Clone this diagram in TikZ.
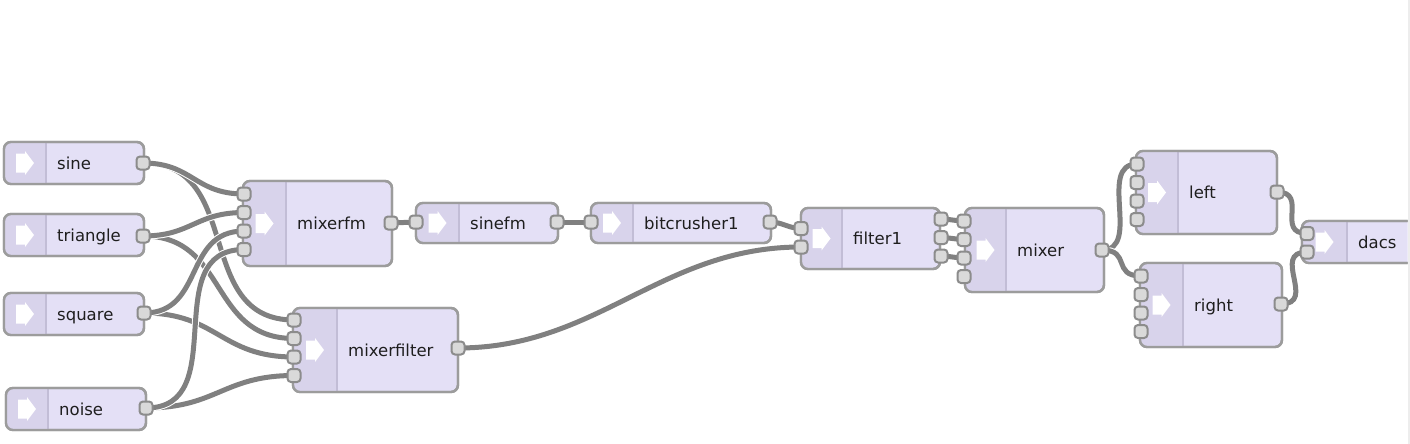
\documentclass[tikz,border=0pt]{standalone}
\usepackage{fontspec}
\setmainfont{DejaVu Sans}
\usetikzlibrary{calc}
\definecolor{boxfill}{HTML}{E4E0F6}
\definecolor{bandc}{HTML}{D8D3EB}
\definecolor{divc}{HTML}{C2BDD6}
\definecolor{boxline}{HTML}{9C9C9C}
\definecolor{portf}{HTML}{D9D9D9}
\definecolor{portline}{HTML}{8C8C8C}
\definecolor{wirec}{HTML}{808080}
\definecolor{txtc}{HTML}{1E1E1E}
\pgfdeclarelayer{wirelayer}
\pgfdeclarelayer{portlayer}
\pgfsetlayers{main,wirelayer,portlayer}
\tikzset{
  box/.style={draw=boxline, fill=boxfill, line width=2.4pt, rounded corners=7pt, inner sep=0pt, outer sep=0pt},
  lbl/.style={text=txtc, font=\fontsize{16.5}{19}\selectfont, inner sep=0pt},
  port/.style={draw=portline, fill=portf, line width=2pt, rounded corners=3.5pt, minimum size=13pt, inner sep=0pt},
  wire/.style={draw=wirec, line width=5pt, preaction={draw=white, line width=7pt}},
}
% #1 name, #2 left, #3 top, #4 right, #5 bottom, #6 band width, #7 label
\newcommand\mkblock[7]{%
  \node[box, anchor=north west, minimum width={(#4-#2)*1pt}, minimum height={(#5-#3)*1pt}] (#1) at (#2,#3) {};
  \begin{scope}
    \clip[rounded corners=7pt] (#2,#3) rectangle (#4,#5);
    \fill[bandc] (#2,#3) rectangle ({#2+#6},#5);
  \end{scope}
  \draw[divc, line width=1.6pt] ({#2+#6},{#3+1}) -- ({#2+#6},{#5-1});
  \begin{scope}[shift={({#2+#6/2},{(#3+#5)/2})}]
    \fill[white] (-9,-9.5) -- (0,-9.5) -- (0,-12) -- (9,0) -- (0,12) -- (0,9.5) -- (-9,9.5) -- cycle;
  \end{scope}
  \draw[boxline, line width=2.4pt, rounded corners=7pt] (#2,#3) rectangle (#4,#5);
  \node[lbl, anchor=base west] (#1-lbl) at ({#2+#6+11},{(#3+#5)/2+6}) {#7};
}
\begin{document}
\begin{tikzpicture}[x=1pt, y=-1pt]
\useasboundingbox (0,0) rectangle (1410,444);
\fill[white] (0,0) rectangle (1410,444);
\fill[black!7] (1407.5,0) rectangle (1410,444);
\begin{scope}
\clip (0,0) rectangle (1407.5,444);
\mkblock{sine}{4}{142}{144}{184}{42}{sine}
\mkblock{triangle}{4}{214}{144}{256}{42}{triangle}
\mkblock{square}{4}{293}{144}{335}{42}{square}
\mkblock{noise}{6}{388}{146}{430}{42}{noise}
\mkblock{mixerfm}{243}{181}{392}{266}{43}{mixerfm}
\mkblock{sinefm}{416}{203}{558}{243}{43}{sinefm}
\mkblock{bitcrusher1}{591}{203}{771}{243}{42}{bitcrusher1}
\mkblock{mixerfilter}{293}{308}{458}{392}{44}{mixerfilter}
\mkblock{filter1}{801}{208}{940}{269}{41}{filter1}
\mkblock{mixer}{965}{208}{1104}{292}{41}{mixer}
\mkblock{left}{1136}{151}{1277}{234}{42}{left}
\mkblock{right}{1140}{263}{1282}{347}{43}{right}
\mkblock{dacs}{1302}{221}{1450}{263}{45}{dacs}
\end{scope}

\begin{pgfonlayer}{portlayer}
\node[port] (sine-out) at (143,163) {};
\node[port] (triangle-out) at (143,236) {};
\node[port] (square-out) at (144,313) {};
\node[port] (noise-out) at (146,408) {};
\node[port] (mixerfm-in1) at (244,194) {};
\node[port] (mixerfm-in2) at (244,212.5) {};
\node[port] (mixerfm-in3) at (244,231) {};
\node[port] (mixerfm-in4) at (244,249.5) {};
\node[port] (mixerfm-out) at (391,223) {};
\node[port] (sinefm-in) at (416,222) {};
\node[port] (sinefm-out) at (557,222) {};
\node[port] (bitcrusher1-in) at (591,222) {};
\node[port] (bitcrusher1-out) at (770,222) {};
\node[port] (mixerfilter-in1) at (294,320) {};
\node[port] (mixerfilter-in2) at (294,338.5) {};
\node[port] (mixerfilter-in3) at (294,357) {};
\node[port] (mixerfilter-in4) at (294,375.5) {};
\node[port] (mixerfilter-out) at (458,348) {};
\node[port] (filter1-in1) at (801,228.5) {};
\node[port] (filter1-in2) at (801,247) {};
\node[port] (filter1-out1) at (941,219) {};
\node[port] (filter1-out2) at (941,237.5) {};
\node[port] (filter1-out3) at (941,256) {};
\node[port] (mixer-in1) at (964,221) {};
\node[port] (mixer-in2) at (964,239.5) {};
\node[port] (mixer-in3) at (964,258) {};
\node[port] (mixer-in4) at (964,276.5) {};
\node[port] (mixer-out) at (1102,250) {};
\node[port] (left-in1) at (1137,164) {};
\node[port] (left-in2) at (1137,182.5) {};
\node[port] (left-in3) at (1137,201) {};
\node[port] (left-in4) at (1137,219.5) {};
\node[port] (left-out) at (1277,192) {};
\node[port] (right-in1) at (1141,276) {};
\node[port] (right-in2) at (1141,294.5) {};
\node[port] (right-in3) at (1141,313) {};
\node[port] (right-in4) at (1141,331.5) {};
\node[port] (right-out) at (1281,304) {};
\node[port] (dacs-in1) at (1307,233.5) {};
\node[port] (dacs-in2) at (1307,252) {};
\end{pgfonlayer}

\begin{pgfonlayer}{wirelayer}
\draw[wire] (sine-out.center) to[out=0,in=180,looseness=1.2] (mixerfilter-in1.center);
\draw[wire] (triangle-out.center) to[out=0,in=180,looseness=1.2] (mixerfilter-in2.center);
\draw[wire] (sine-out.center) to[out=0,in=180,looseness=1.2] (mixerfm-in1.center);
\draw[wire] (triangle-out.center) to[out=0,in=180,looseness=1.2] (mixerfm-in2.center);
\draw[wire] (square-out.center) to[out=0,in=180,looseness=1.2] (mixerfilter-in3.center);
\draw[wire] (noise-out.center) to[out=0,in=180,looseness=1.2] (mixerfilter-in4.center);
\draw[wire] (square-out.center) to[out=0,in=180,looseness=1.2] (mixerfm-in3.center);
\draw[wire] (noise-out.center) to[out=0,in=180,looseness=1.2] (mixerfm-in4.center);
\draw[wire] (mixerfm-out.center) -- (sinefm-in.center);
\draw[wire] (sinefm-out.center) -- (bitcrusher1-in.center);
\draw[wire] (bitcrusher1-out.center) to[out=0,in=180] (filter1-in1.center);
\draw[wire] (mixerfilter-out.center) to[out=0,in=180] (filter1-in2.center);
\draw[wire] (filter1-out1.center) to[out=0,in=180] (mixer-in1.center);
\draw[wire] (filter1-out2.center) to[out=0,in=180] (mixer-in2.center);
\draw[wire] (filter1-out3.center) to[out=0,in=180] (mixer-in3.center);
\draw[wire] (mixer-out.center) to[out=0,in=180,looseness=1.1] (left-in1.center);
\draw[wire] (mixer-out.center) to[out=0,in=180,looseness=1.6] (right-in1.center);
\draw[wire] (left-out.center) to[out=0,in=180,looseness=1.6] (dacs-in1.center);
\draw[wire] (right-out.center) to[out=0,in=180,looseness=1.6] (dacs-in2.center);
\end{pgfonlayer}
\end{tikzpicture}
\end{document}
